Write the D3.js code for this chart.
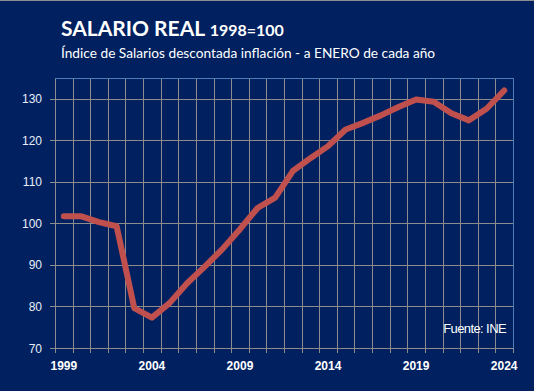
<!DOCTYPE html>
<html>
<head>
<meta charset="utf-8">
<script src="https://cdn.jsdelivr.net/npm/d3@7"></script>
<style>
  html, body { margin: 0; padding: 0; background: #002060; }
  svg { display: block; }
</style>
</head>
<body>
<svg id="chart" width="534" height="391"></svg>
<script>
// real wage index, January of each year (1998=100)
const years = d3.range(1999, 2025).map(String);
const salario = [101.7, 101.7, 100.3, 99.3, 79.6, 77.3, 80.8, 85.6, 89.6, 93.8,
  98.6, 103.7, 106.2, 112.6, 115.7, 118.6, 122.6, 124.2, 126.0, 128.0,
  129.8, 129.3, 126.5, 124.8, 127.6, 132.0];
const yTicks = [70, 80, 90, 100, 110, 120, 130];
const xLabels = ["1999", "2004", "2009", "2014", "2019", "2024"];

const W = 534, H = 391;
const m = { left: 55, right: 21, top: 78, bottom: 43 };

const svg = d3.select("#chart");

svg.append("rect").attr("width", W).attr("height", H).attr("fill", "#002060");
svg.append("line").attr("x1", 0).attr("x2", W).attr("y1", 0.5).attr("y2", 0.5)
  .attr("stroke", "#8c8c8c");

const x = d3.scaleBand().domain(years).range([m.left, W - m.right]);
const y = d3.scaleLinear().domain([70, 135]).range([H - m.bottom, m.top]);

const g = svg.append("g");

// vertical grid at band edges
const edges = years.map(d => x(d)).concat([x.range()[1]]);
g.selectAll("line.vg")
  .data(edges)
  .join("line")
  .attr("class", "vg")
  .attr("x1", d => Math.round(d) + 0.5).attr("x2", d => Math.round(d) + 0.5)
  .attr("y1", y(135)).attr("y2", y(70) + 5)
  .attr("stroke", "#8c8c8c").attr("stroke-width", 1);

// horizontal grid
g.selectAll("line.hg")
  .data(yTicks)
  .join("line")
  .attr("class", "hg")
  .attr("x1", m.left - 5).attr("x2", W - m.right)
  .attr("y1", d => Math.round(y(d)) + 0.5).attr("y2", d => Math.round(y(d)) + 0.5)
  .attr("stroke", "#8c8c8c").attr("stroke-width", 1);

// plot border top/right
g.append("path")
  .attr("d", `M${m.left},${Math.round(y(135)) + 0.5}H${Math.round(W - m.right) + 0.5}V${Math.round(y(70)) + 0.5}`)
  .attr("fill", "none").attr("stroke", "#4a7ebb").attr("stroke-width", 1);

// y labels
g.selectAll("text.yl")
  .data(yTicks)
  .join("text")
  .attr("class", "yl")
  .attr("x", 42).attr("y", d => y(d) + 4.5)
  .attr("text-anchor", "end")
  .attr("font-family", "Liberation Sans, Arial, sans-serif")
  .attr("font-size", 12)
  .attr("fill", "#e8eefa")
  .text(d => d);

// x labels
g.selectAll("text.xl")
  .data(xLabels)
  .join("text")
  .attr("class", "xl")
  .attr("x", d => x(d) + x.bandwidth() / 2)
  .attr("y", 370)
  .attr("text-anchor", "middle")
  .attr("font-family", "Liberation Sans, Arial, sans-serif")
  .attr("font-weight", "bold")
  .attr("font-size", 12)
  .attr("fill", "#ffffff")
  .text(d => d);

// line
const line = d3.line()
  .x((d, i) => x(years[i]) + x.bandwidth() / 2)
  .y(d => y(d));

g.append("path")
  .datum(salario)
  .attr("d", line)
  .attr("fill", "none")
  .attr("stroke", "#c0504d")
  .attr("stroke-width", 6)
  .attr("stroke-linejoin", "round")
  .attr("stroke-linecap", "round");

// source
svg.append("text")
  .attr("x", 506).attr("y", 333)
  .attr("text-anchor", "end")
  .attr("font-family", "Liberation Sans Narrow, Liberation Sans, Arial, sans-serif")
  .attr("font-size", 13)
  .attr("letter-spacing", -0.6)
  .attr("fill", "#ffffff")
  .text("Fuente: INE");

// titles
const title = svg.append("text")
  .attr("x", 61).attr("y", 36)
  .attr("font-family", "Lato, Open Sans, sans-serif")
  .attr("font-weight", "bold")
  .attr("fill", "#ffffff");
title.append("tspan").attr("font-size", 21).text("SALARIO REAL ");
title.append("tspan").attr("font-size", 16).text("1998=100");

svg.append("text")
  .attr("x", 61).attr("y", 58)
  .attr("font-family", "Lato, Open Sans, sans-serif")
  .attr("font-size", 13.7)
  .attr("fill", "#ffffff")
  .text("Índice de Salarios descontada inflación - a ENERO de cada año");
</script>
</body>
</html>
